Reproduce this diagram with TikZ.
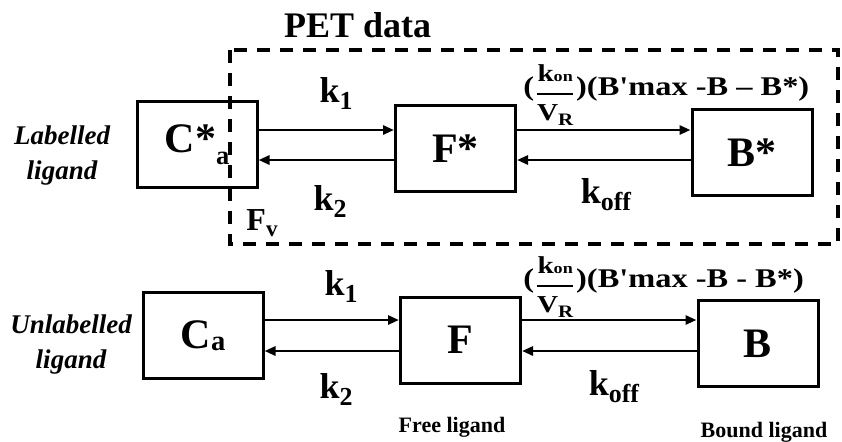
\documentclass[tikz,border=0pt]{standalone}
\usepackage{fontspec}
\setmainfont{Liberation Serif}
\usepackage{amsmath}
\usepackage{graphicx}
\usetikzlibrary{arrows.meta, positioning}
\newcommand{\dn}[1]{\raisebox{-0.45ex}{\scalebox{0.72}{#1}}}
\newcommand{\lowidx}[3]{\raisebox{-#1}{\scalebox{#2}{#3}}}
\newcommand{\onrate}{(\raisebox{-3pt}{$\genfrac{}{}{0.7pt}{0}{\text{\scalebox{0.9}{k\scalebox{0.62}{on}}}}{\text{\scalebox{0.9}{V\dn{R}}}}$})}

\begin{document}
\begin{tikzpicture}[x=0.5pt, y=-0.5pt,
    comp/.style={rectangle, draw=black, line width=1.5pt,
                 minimum width=60pt, minimum height=43pt,
                 font=\fontsize{21}{24}\selectfont\bfseries},
    rate/.style={anchor=base, font=\fontsize{18}{20}\selectfont\bfseries},
    frm/.style={anchor=base west, inner sep=0pt, font=\fontsize{13.5}{15}\selectfont\bfseries},
    side/.style={align=center, font=\fontsize{13.5}{17.5}\selectfont\bfseries\itshape},
    caption/.style={anchor=base, font=\fontsize{11}{12}\selectfont\bfseries},
    flow/.style={-{Triangle[length=5.5pt, width=4.5pt]}, line width=1.4pt},
    petbox/.style={draw=black, line width=2pt, dash pattern=on 6.5pt off 5pt}
]
\useasboundingbox (0,0) rectangle (842,441);

\node[comp] (cs) at (197, 144.5) {C*\lowidx{6pt}{0.63}{a}};
\node[comp] (fs) at (455.5, 148.5) {F*};
\node[comp] (bs) at (752, 152.5) {B*};

\node[comp] (ca) at (203, 335.5) {C\lowidx{1pt}{0.68}{a}};
\node[comp] (f)  at (460.5, 340) {F};
\node[comp] (b)  at (758, 343.5) {B};

\draw[flow] (cs.east |- 0,130) -- (fs.west |- 0,130);
\draw[flow] (fs.west |- 0,160) -- (cs.east |- 0,160);
\draw[flow] (fs.east |- 0,130) -- (bs.west |- 0,130);
\draw[flow] (bs.west |- 0,160) -- (fs.east |- 0,160);

\draw[flow] (ca.east |- 0,320) -- (f.west |- 0,320);
\draw[flow] (f.west |- 0,351) -- (ca.east |- 0,351);
\draw[flow] (f.east |- 0,320) -- (b.west |- 0,320);
\draw[flow] (b.west |- 0,351) -- (f.east |- 0,351);

\node[rate] (k1s) at (336, 102) {k\dn{1}};
\node[rate] (k2s) at (330, 210) {k\dn{2}};
\node[rate] (koffs) at (606, 203) {k\dn{off}};
\node[frm] (bmaxs) at (523, 95) {\scalebox{1.2}[1]{\onrate(B\textquotesingle max -B -- B*)}};

\node[rate] (k1) at (341, 295) {k\dn{1}};
\node[rate] (k2) at (336, 398) {k\dn{2}};
\node[rate] (koff) at (614, 395) {k\dn{off}};
\node[frm] (bmax) at (523, 287) {\scalebox{1.2}[1]{\onrate(B\textquotesingle max -B - B*)}};

\node[side] (lab) at (62, 155) {Labelled\\ligand};
\node[side] (unlab) at (71, 344) {Unlabelled\\ligand};

\node[rate, font=\fontsize{16}{18}\selectfont\bfseries] (fv) at (262, 230) {F\dn{v}};
\node[anchor=base west, font=\fontsize{18}{20}\selectfont\bfseries] (pet) at (277, 37) {PET data};

\node[caption] (free) at (452, 432) {Free ligand};
\node[caption] (bound) at (764, 437) {Bound ligand};

\draw[petbox] (230,50) rectangle (838,244);
\end{tikzpicture}
\end{document}
